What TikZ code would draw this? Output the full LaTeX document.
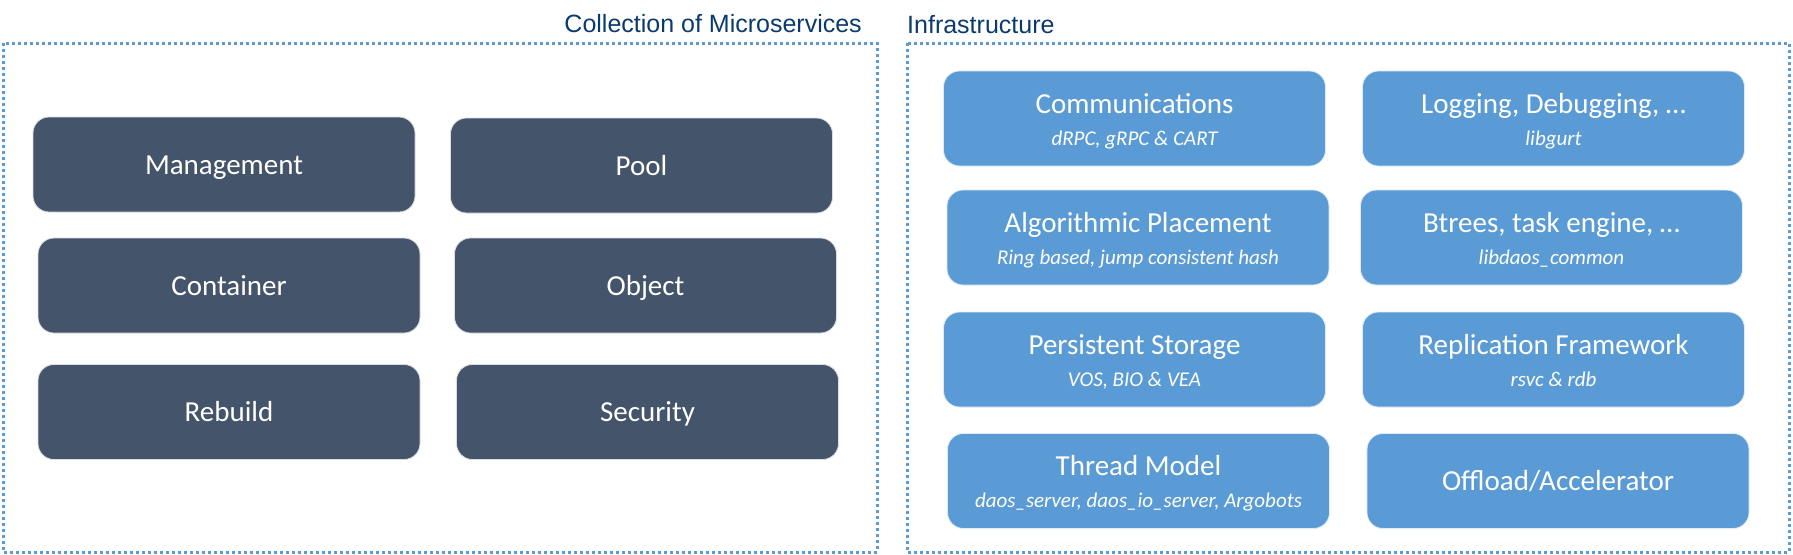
\documentclass[tikz,border=0pt]{standalone}
\usepackage{fontspec}
\setmainfont{Carlito}
\newfontfamily\titlefont{Liberation Sans}
\definecolor{darkbox}{HTML}{44546A}
\definecolor{lightbox}{HTML}{5B9BD5}
\definecolor{framecol}{HTML}{5B9BD5}
\definecolor{titlecol}{HTML}{0B3A6E}
\newcommand{\mainstrut}{\rule[-6pt]{0pt}{31.5pt}}
\newcommand{\subline}[1]{{\fontsize{21}{23}\selectfont\itshape\vphantom{Ag}#1}}
\begin{document}
\begin{tikzpicture}[x=1pt,y=-1pt,
  svc/.style={rectangle, rounded corners=16pt, minimum width=382pt, minimum height=95pt,
    inner sep=0pt, text=white, font=\fontsize{29}{31}\selectfont, align=center},
  darksvc/.style={svc, fill=darkbox, draw=white!80!darkbox, line width=0.8pt},
  lightsvc/.style={svc, fill=lightbox, draw=white!80!lightbox, line width=0.8pt},
  frame/.style={draw=framecol, line width=3pt, dash pattern=on 3pt off 3pt},
  grptitle/.style={text=titlecol, font=\titlefont\fontsize{25}{27}\selectfont, inner sep=0pt}
]
\useasboundingbox (0,0) rectangle (1793,554);
% frames
\draw[frame] (3,43) rectangle (877,552);
\draw[frame] (907,43) rectangle (1789,552);
\node[grptitle, anchor=base east] (t1) at (862,32) {Collection of Microservices};
\node[grptitle, anchor=base west] (t2) at (907,33) {Infrastructure};
% microservices
\node[darksvc] (mgmt) at (224,164.5) {\mainstrut Management};
\node[darksvc] (pool) at (641.5,165.5) {\mainstrut Pool};
\node[darksvc] (cont) at (229,285.5) {\mainstrut Container};
\node[darksvc] (obj) at (645.5,285.5) {\mainstrut Object};
\node[darksvc] (reb) at (229,412) {\mainstrut Rebuild};
\node[darksvc] (sec) at (647.5,412) {\mainstrut Security};
% infrastructure
\node[lightsvc] (comm) at (1134.5,118.5) {\mainstrut Communications\\[1pt]\subline{dRPC, gRPC \& CART}};
\node[lightsvc] (log) at (1553.5,118.5) {\mainstrut Logging, Debugging, \dots\\[1pt]\subline{libgurt}};
\node[lightsvc] (algo) at (1138,237.5) {\mainstrut Algorithmic Placement\\[1pt]\subline{Ring based, jump consistent hash}};
\node[lightsvc] (btree) at (1551.5,237.5) {\mainstrut Btrees, task engine, \dots\\[1pt]\subline{libdaos\_common}};
\node[lightsvc] (pers) at (1134.5,359.5) {\mainstrut Persistent Storage\\[1pt]\subline{VOS, BIO \& VEA}};
\node[lightsvc] (repl) at (1553.5,359.5) {\mainstrut Replication Framework\\[1pt]\subline{rsvc \& rdb}};
\node[lightsvc] (thr) at (1138.5,481) {\mainstrut Thread Model\\[1pt]\subline{daos\_server, daos\_io\_server, Argobots}};
\node[lightsvc] (off) at (1558,481) {\mainstrut Offload/Accelerator};
\end{tikzpicture}
\end{document}
